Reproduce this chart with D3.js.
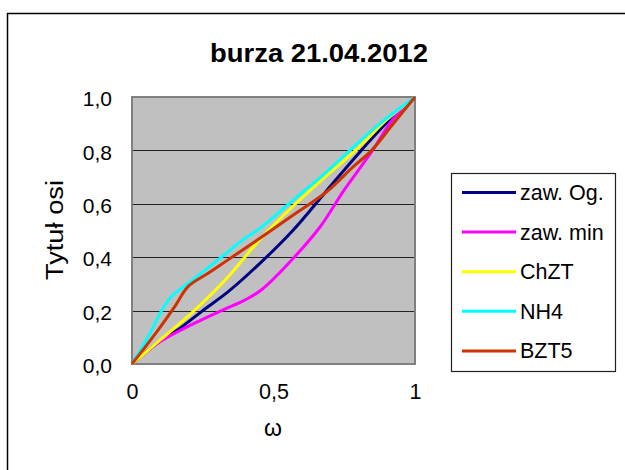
<!DOCTYPE html>
<html>
<head>
<meta charset="utf-8">
<script src="https://cdn.jsdelivr.net/npm/d3@7"></script>
<style>
  body { margin: 0; background: #fff; }
  text { font-family: Arial, "Liberation Sans", sans-serif; fill: #000; }
</style>
</head>
<body>
<div id="chart"></div>
<script>

var title = 'burza 21.04.2012',
    xTitle = 'ω',
    yTitle = 'Tytuł osi';

var seriesNames = ['zaw. Og.', 'zaw. min', 'ChZT', 'NH4', 'BZT5'];
var seriesColors = ['#000080', '#ff00ff', '#ffff00', '#00ffff', '#cc3300'];

// x / y pairs, per series
var ogX  = [0, 0.10, 0.16, 0.25, 0.34, 0.45, 0.57, 0.69, 0.81, 0.92, 1];
var ogY  = [0, 0.087, 0.127, 0.20, 0.271, 0.375, 0.502, 0.652, 0.80, 0.925, 1];
var minX = [0, 0.10, 0.22, 0.32, 0.40, 0.46, 0.57, 0.665, 0.75, 0.85, 0.92, 1];
var minY = [0, 0.084, 0.152, 0.202, 0.24, 0.28, 0.396, 0.514, 0.652, 0.80, 0.914, 1];
var chztX = [0, 0.10, 0.22, 0.34, 0.45, 0.58, 0.69, 0.79, 0.90, 1];
var chztY = [0, 0.09, 0.20, 0.327, 0.464, 0.602, 0.708, 0.80, 0.915, 1];
var nh4X = [0, 0.057, 0.11, 0.139, 0.22, 0.316, 0.39, 0.452, 0.57, 0.688, 0.77, 0.876, 1];
var nh4Y = [0, 0.102, 0.21, 0.252, 0.32, 0.40, 0.464, 0.508, 0.614, 0.72, 0.80, 0.90, 1];
var bztX = [0, 0.092, 0.151, 0.198, 0.269, 0.339, 0.434, 0.57, 0.688, 0.782, 0.847, 0.923, 1];
var bztY = [0, 0.127, 0.215, 0.29, 0.34, 0.39, 0.458, 0.558, 0.645, 0.739, 0.80, 0.90, 1];

var yTicks = [0, 0.2, 0.4, 0.6, 0.8, 1.0];
var xTicks = [0, 0.5, 1];
var yTickLabels = ['0,0', '0,2', '0,4', '0,6', '0,8', '1,0'];
var xTickLabels = ['0', '0,5', '1'];

var allX = [ogX, minX, chztX, nh4X, bztX],
    allY = [ogY, minY, chztY, nh4Y, bztY];

var width = 625,
    height = 470,
    plot = { left: 132, top: 97, right: 415, bottom: 364 };

var svg = d3.select('#chart')
  .append('svg')
  .attr('width', width)
  .attr('height', height);

// outer frame (runs off the right and bottom edge)
svg.append('rect')
  .attr('x', 7.5).attr('y', 13.5)
  .attr('width', 640).attr('height', 480)
  .attr('fill', '#fff')
  .attr('stroke', '#000')
  .attr('stroke-width', 1.5);

var x = d3.scaleLinear().domain([0, 1]).range([plot.left, plot.right]);
var y = d3.scaleLinear().domain([0, 1]).range([plot.bottom, plot.top]);

svg.append('text')
  .attr('x', 319).attr('y', 62)
  .attr('text-anchor', 'middle')
  .attr('textLength', 218)
  .attr('lengthAdjust', 'spacingAndGlyphs')
  .style('font-size', '26px')
  .style('font-weight', 'bold')
  .text(title);

// plot background
svg.append('rect')
  .attr('x', plot.left).attr('y', plot.top)
  .attr('width', plot.right - plot.left)
  .attr('height', plot.bottom - plot.top)
  .attr('fill', '#c0c0c0');

// gridlines
svg.append('g')
  .selectAll('line')
  .data(yTicks.slice(1, -1))
  .enter().append('line')
  .attr('x1', plot.left).attr('x2', plot.right)
  .attr('y1', function(d) { return Math.round(y(d)) + 0.5; })
  .attr('y2', function(d) { return Math.round(y(d)) + 0.5; })
  .attr('stroke', '#222')
  .attr('stroke-width', 1.2);

svg.append('rect')
  .attr('x', plot.left).attr('y', plot.top)
  .attr('width', plot.right - plot.left)
  .attr('height', plot.bottom - plot.top)
  .attr('fill', 'none')
  .attr('stroke', '#808080')
  .attr('stroke-width', 2);

// axes, drawn without domain/ticks, only labels
var yAxis = d3.axisLeft(y)
  .tickValues(yTicks)
  .tickSize(0)
  .tickPadding(0)
  .tickFormat(function(d, i) { return yTickLabels[i]; });

svg.append('g')
  .attr('transform', 'translate(112,2)')
  .call(yAxis)
  .call(function(g) { g.select('.domain').remove(); })
  .selectAll('text')
  .style('font-size', '21px')
  .style('font-family', 'Arial, "Liberation Sans", sans-serif')
  .attr('fill', '#000');

var xAxis = d3.axisBottom(x)
  .tickValues(xTicks)
  .tickSize(0)
  .tickPadding(0)
  .tickFormat(function(d, i) { return xTickLabels[i]; });

svg.append('g')
  .attr('transform', 'translate(0,384)')
  .call(xAxis)
  .call(function(g) { g.select('.domain').remove(); })
  .selectAll('text')
  .style('font-size', '21.5px')
  .style('font-family', 'Arial, "Liberation Sans", sans-serif')
  .attr('fill', '#000');

svg.append('text')
  .attr('x', 273).attr('y', 436)
  .attr('text-anchor', 'middle')
  .style('font-size', '23px')
  .text(xTitle);

svg.append('text')
  .attr('transform', 'translate(63,230) rotate(-90)')
  .attr('text-anchor', 'middle')
  .attr('textLength', 100)
  .attr('lengthAdjust', 'spacingAndGlyphs')
  .style('font-size', '23px')
  .text(yTitle);

// series
var line = d3.line()
  .x(function(d) { return x(d[0]); })
  .y(function(d) { return y(d[1]); })
  .curve(d3.curveCatmullRom.alpha(0.5));

seriesNames.forEach(function(name, i) {
  var pts = allX[i].map(function(v, j) { return [v, allY[i][j]]; });
  svg.append('path')
    .datum(pts)
    .attr('d', line)
    .attr('fill', 'none')
    .attr('stroke', seriesColors[i])
    .attr('stroke-width', 3)
    .attr('stroke-linejoin', 'round');
});

// legend
var legend = svg.append('g');

legend.append('rect')
  .attr('x', 451.5).attr('y', 173.5)
  .attr('width', 164).attr('height', 198)
  .attr('fill', '#fff')
  .attr('stroke', '#222')
  .attr('stroke-width', 1.2);

var item = legend.selectAll('g.item')
  .data(seriesNames)
  .enter().append('g')
  .attr('class', 'item')
  .attr('transform', function(d, i) { return 'translate(0,' + (192.5 + i * 39.6) + ')'; });

item.append('line')
  .attr('x1', 462).attr('x2', 516)
  .attr('stroke', function(d, i) { return seriesColors[i]; })
  .attr('stroke-width', 3);

item.append('text')
  .attr('x', 520).attr('y', 7.5)
  .style('font-size', '21.5px')
  .text(function(d) { return d; });

</script>
</body>
</html>
